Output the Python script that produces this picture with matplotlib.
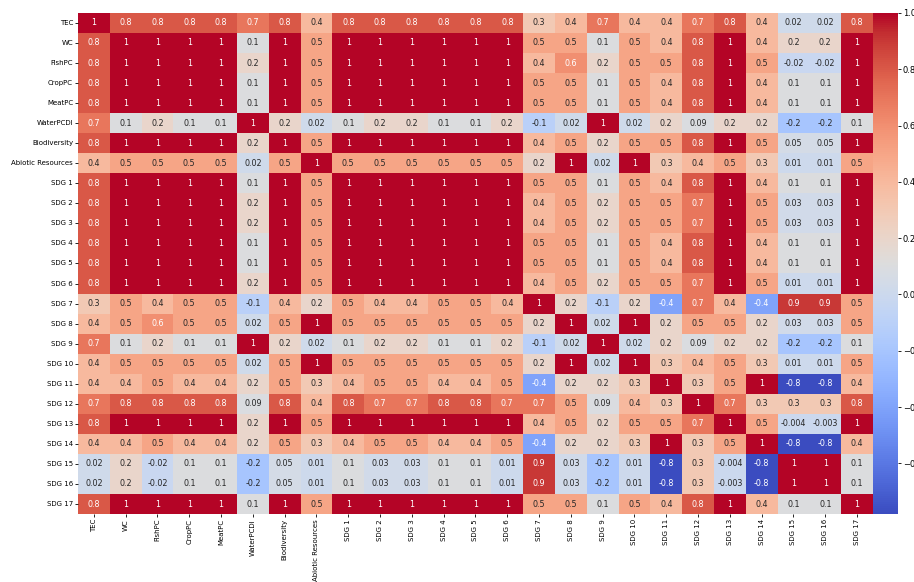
import numpy as np
import matplotlib
matplotlib.use('Agg')
import matplotlib.pyplot as plt
import seaborn as sns

#%% Data

labels = ['TEC', 'WC', 'FishPC', 'CropPC', 'MeatPC', 'WaterPCDI', 'Biodiversity',
          'Abiotic Resources'] + [f'SDG {i}' for i in range(1, 18)]

n = -0.78  # shown as -0.8

tec        = [1, 0.8, 0.8, 0.8, 0.8, 0.7, 0.8, 0.4, 0.8, 0.8, 0.8, 0.8, 0.8, 0.8, 0.3, 0.4, 0.7, 0.4, 0.4, 0.7, 0.8, 0.4, 0.02, 0.02, 0.8]
wc         = [0.8, 1, 1, 1, 1, 0.1, 1, 0.5, 1, 1, 1, 1, 1, 1, 0.5, 0.5, 0.1, 0.5, 0.4, 0.8, 1, 0.4, 0.2, 0.2, 1]
fishpc     = [0.8, 1, 1, 1, 1, 0.2, 1, 0.5, 1, 1, 1, 1, 1, 1, 0.4, 0.6, 0.2, 0.5, 0.5, 0.8, 1, 0.5, -0.02, -0.02, 1]
croppc     = [0.8, 1, 1, 1, 1, 0.1, 1, 0.5, 1, 1, 1, 1, 1, 1, 0.5, 0.5, 0.1, 0.5, 0.4, 0.8, 1, 0.4, 0.1, 0.1, 1]
meatpc     = [0.8, 1, 1, 1, 1, 0.1, 1, 0.5, 1, 1, 1, 1, 1, 1, 0.5, 0.5, 0.1, 0.5, 0.4, 0.8, 1, 0.4, 0.1, 0.1, 1]
waterpcdi  = [0.7, 0.1, 0.2, 0.1, 0.1, 1, 0.2, 0.02, 0.1, 0.2, 0.2, 0.1, 0.1, 0.2, -0.1, 0.02, 1, 0.02, 0.2, 0.09, 0.2, 0.2, -0.2, -0.2, 0.1]
biodiv     = [0.8, 1, 1, 1, 1, 0.2, 1, 0.5, 1, 1, 1, 1, 1, 1, 0.4, 0.5, 0.2, 0.5, 0.5, 0.8, 1, 0.5, 0.05, 0.05, 1]
abiotic    = [0.4, 0.5, 0.5, 0.5, 0.5, 0.02, 0.5, 1, 0.5, 0.5, 0.5, 0.5, 0.5, 0.5, 0.2, 1, 0.02, 1, 0.3, 0.4, 0.5, 0.3, 0.01, 0.01, 0.5]
sdg1       = [0.8, 1, 1, 1, 1, 0.1, 1, 0.5, 1, 1, 1, 1, 1, 1, 0.5, 0.5, 0.1, 0.5, 0.4, 0.8, 1, 0.4, 0.1, 0.1, 1]
sdg2       = [0.8, 1, 1, 1, 1, 0.2, 1, 0.5, 1, 1, 1, 1, 1, 1, 0.4, 0.5, 0.2, 0.5, 0.5, 0.7, 1, 0.5, 0.03, 0.03, 1]
sdg3       = [0.8, 1, 1, 1, 1, 0.2, 1, 0.5, 1, 1, 1, 1, 1, 1, 0.4, 0.5, 0.2, 0.5, 0.5, 0.7, 1, 0.5, 0.03, 0.03, 1]
sdg4       = [0.8, 1, 1, 1, 1, 0.1, 1, 0.5, 1, 1, 1, 1, 1, 1, 0.5, 0.5, 0.1, 0.5, 0.4, 0.8, 1, 0.4, 0.1, 0.1, 1]
sdg5       = [0.8, 1, 1, 1, 1, 0.1, 1, 0.5, 1, 1, 1, 1, 1, 1, 0.5, 0.5, 0.1, 0.5, 0.4, 0.8, 1, 0.4, 0.1, 0.1, 1]
sdg6       = [0.8, 1, 1, 1, 1, 0.2, 1, 0.5, 1, 1, 1, 1, 1, 1, 0.4, 0.5, 0.2, 0.5, 0.5, 0.7, 1, 0.5, 0.01, 0.01, 1]
sdg7       = [0.3, 0.5, 0.4, 0.5, 0.5, -0.1, 0.4, 0.2, 0.5, 0.4, 0.4, 0.5, 0.5, 0.4, 1, 0.2, -0.1, 0.2, -0.4, 0.7, 0.4, -0.4, 0.9, 0.9, 0.5]
sdg8       = [0.4, 0.5, 0.6, 0.5, 0.5, 0.02, 0.5, 1, 0.5, 0.5, 0.5, 0.5, 0.5, 0.5, 0.2, 1, 0.02, 1, 0.2, 0.5, 0.5, 0.2, 0.03, 0.03, 0.5]
sdg9       = [0.7, 0.1, 0.2, 0.1, 0.1, 1, 0.2, 0.02, 0.1, 0.2, 0.2, 0.1, 0.1, 0.2, -0.1, 0.02, 1, 0.02, 0.2, 0.09, 0.2, 0.2, -0.2, -0.2, 0.1]
sdg10      = [0.4, 0.5, 0.5, 0.5, 0.5, 0.02, 0.5, 1, 0.5, 0.5, 0.5, 0.5, 0.5, 0.5, 0.2, 1, 0.02, 1, 0.3, 0.4, 0.5, 0.3, 0.01, 0.01, 0.5]
sdg11      = [0.4, 0.4, 0.5, 0.4, 0.4, 0.2, 0.5, 0.3, 0.4, 0.5, 0.5, 0.4, 0.4, 0.5, -0.4, 0.2, 0.2, 0.3, 1, 0.3, 0.5, 1, n, n, 0.4]
sdg12      = [0.7, 0.8, 0.8, 0.8, 0.8, 0.09, 0.8, 0.4, 0.8, 0.7, 0.7, 0.8, 0.8, 0.7, 0.7, 0.5, 0.09, 0.4, 0.3, 1, 0.7, 0.3, 0.3, 0.3, 0.8]
sdg13      = [0.8, 1, 1, 1, 1, 0.2, 1, 0.5, 1, 1, 1, 1, 1, 1, 0.4, 0.5, 0.2, 0.5, 0.5, 0.7, 1, 0.5, -0.004, -0.003, 1]
sdg14      = [0.4, 0.4, 0.5, 0.4, 0.4, 0.2, 0.5, 0.3, 0.4, 0.5, 0.5, 0.4, 0.4, 0.5, -0.4, 0.2, 0.2, 0.3, 1, 0.3, 0.5, 1, n, n, 0.4]
sdg15      = [0.02, 0.2, -0.02, 0.1, 0.1, -0.2, 0.05, 0.01, 0.1, 0.03, 0.03, 0.1, 0.1, 0.01, 0.9, 0.03, -0.2, 0.01, n, 0.3, -0.004, n, 1, 1, 0.1]
sdg16      = [0.02, 0.2, -0.02, 0.1, 0.1, -0.2, 0.05, 0.01, 0.1, 0.03, 0.03, 0.1, 0.1, 0.01, 0.9, 0.03, -0.2, 0.01, n, 0.3, -0.003, n, 1, 1, 0.1]
sdg17      = [0.8, 1, 1, 1, 1, 0.1, 1, 0.5, 1, 1, 1, 1, 1, 1, 0.5, 0.5, 0.1, 0.5, 0.4, 0.8, 1, 0.4, 0.1, 0.1, 1]

corr = np.array([tec, wc, fishpc, croppc, meatpc, waterpcdi, biodiv, abiotic,
                 sdg1, sdg2, sdg3, sdg4, sdg5, sdg6, sdg7, sdg8, sdg9, sdg10,
                 sdg11, sdg12, sdg13, sdg14, sdg15, sdg16, sdg17])

#%% Heatmap

fig = plt.figure(figsize=(9.14, 5.82), dpi=100)
ax = fig.add_axes([0.0853, 0.1168, 0.8698, 0.861])
cax = fig.add_axes([0.9552, 0.1168, 0.0274, 0.861])

sns.heatmap(corr, annot=True, fmt='.1g', cmap='coolwarm', ax=ax, cbar_ax=cax,
            xticklabels=labels, yticklabels=labels,
            annot_kws={'fontsize': 5.8})

ax.tick_params(axis='both', labelsize=5.0, length=2, width=0.6, pad=1.5)
ax.set_xticklabels(labels, rotation=90)
ax.set_yticklabels(labels, rotation=0)

cax.tick_params(labelsize=6, length=2, width=0.6, pad=1.5)
cax.set_yticks([1.0, 0.8, 0.6, 0.4, 0.2, 0.0, -0.2, -0.4, -0.6])

plt.savefig('out.png', dpi=100)
